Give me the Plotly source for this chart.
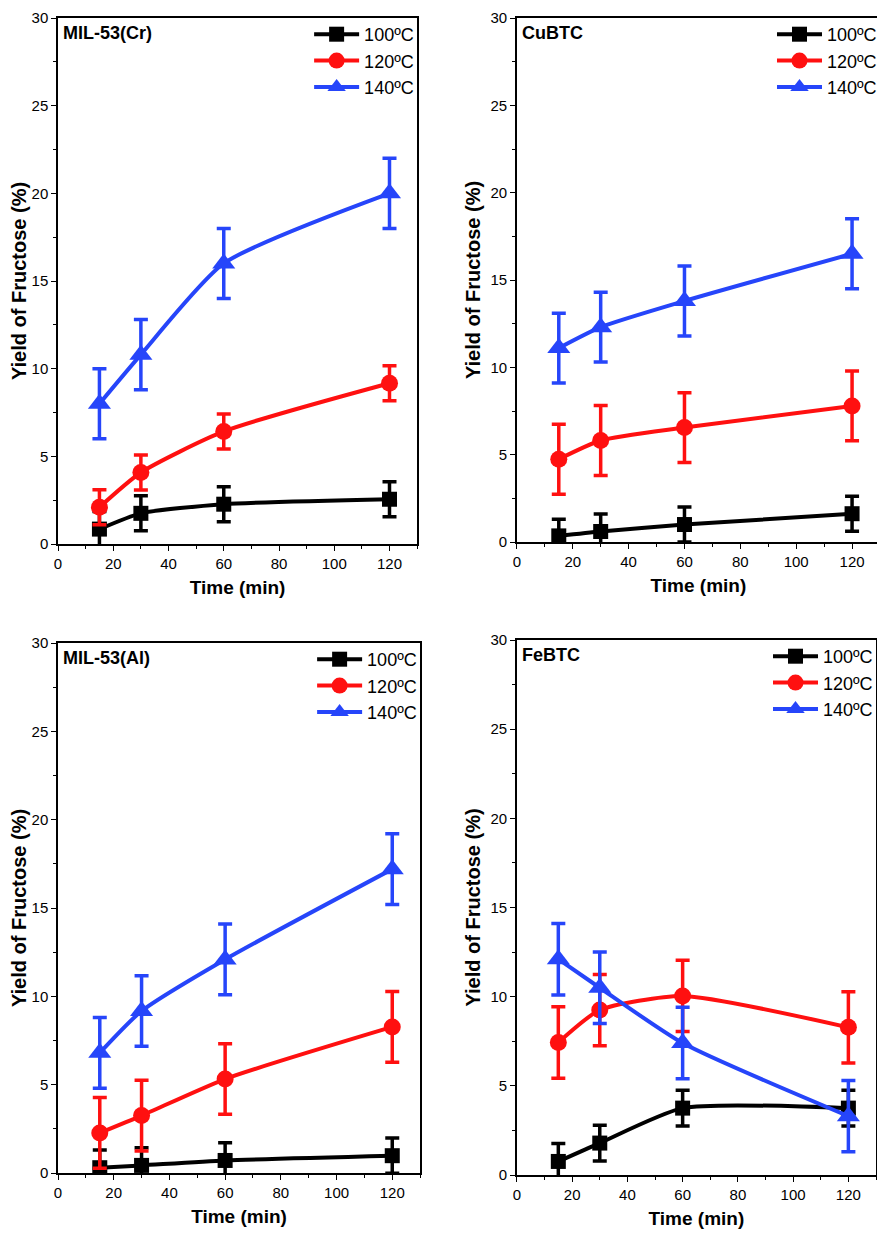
import plotly.graph_objects as go

# reaction time (min)
time = [15, 30, 60, 120]
temps = ["100ºC", "120ºC", "140ºC"]

# yield of fructose (%) per catalyst, one list per temperature
mil53cr_100 = [0.85, 1.75, 2.27, 2.55]
mil53cr_120 = [2.1, 4.08, 6.42, 9.17]
mil53cr_140 = [8.0, 10.8, 16.0, 20.0]
mil53cr_err = [[1, 1, 1, 1], [1, 1, 1, 1], [2, 2, 2, 2]]

cubtc_100 = [0.35, 0.6, 1.0, 1.62]
cubtc_120 = [4.74, 5.81, 6.55, 7.79]
cubtc_140 = [11.1, 12.3, 13.8, 16.5]
cubtc_err = [[0.95, 1, 1, 1], [2, 2, 2, 2], [2, 2, 2, 2]]

mil53al_100 = [0.3, 0.43, 0.71, 0.98]
mil53al_120 = [2.27, 3.25, 5.32, 8.27]
mil53al_140 = [6.8, 9.17, 12.09, 17.2]
mil53al_err = [[1, 1, 1, 1], [2, 2, 2, 2], [2, 2, 2, 2]]

febtc_100 = [0.76, 1.79, 3.75, 3.75]
febtc_120 = [7.43, 9.25, 10.04, 8.28]
febtc_140 = [12.1, 10.5, 7.4, 3.3]
febtc_err = [[1, 1, 1, 1], [2, 2, 2, 2], [2, 2, 2, 2]]

panels = [
    ("MIL-53(Cr)", [mil53cr_100, mil53cr_120, mil53cr_140], mil53cr_err),
    ("CuBTC", [cubtc_100, cubtc_120, cubtc_140], cubtc_err),
    ("MIL-53(Al)", [mil53al_100, mil53al_120, mil53al_140], mil53al_err),
    ("FeBTC", [febtc_100, febtc_120, febtc_140], febtc_err),
]

colors = ["#000000", "#FF1010", "#2645FA"]
symbols = ["square", "circle", "triangle-up"]
msizes = [15, 17, 20]

# the page body has an 8px margin, so the figure is drawn 8px smaller and
# every target pixel position is shifted by that offset
OFF = 8
W, H = 885 - OFF, 1244 - OFF
ML, MR, MT, MB = 58 - OFF, 3, 18 - OFF, 69
PW, PH = W - ML - MR, H - MT - MB
# plot area boxes in page pixels: left, right, top, bottom
boxes = [(58, 418, 18, 544), (518, 882, 18, 542),
         (58, 421, 643, 1173), (518, 878, 640, 1175)]

FONT = "Liberation Sans, Arial, sans-serif"

fig = go.Figure()
layout = dict(
    width=W, height=H,
    margin=dict(l=ML, r=MR, t=MT, b=MB),
    paper_bgcolor="white", plot_bgcolor="white",
    font=dict(family=FONT, color="black", size=15),
    showlegend=True,
    annotations=[],
)

for i, (name, series, errs) in enumerate(panels):
    n = "" if i == 0 else str(i + 1)
    leg = "legend" + n
    for j in range(3):
        fig.add_trace(go.Scatter(
            x=time, y=series[j], name=temps[j],
            mode="lines+markers",
            line=dict(color=colors[j], width=4, shape="spline", smoothing=0.6),
            marker=dict(color=colors[j], symbol=symbols[j], size=msizes[j]),
            error_y=dict(type="data", array=errs[j], color=colors[j],
                         thickness=3.5, width=7),
            xaxis="x" + n, yaxis="y" + n, legend=leg,
        ))
    l, r, t, b = [v - OFF for v in boxes[i]]
    xd = [(l - ML) / PW, (r - ML) / PW]
    yd = [1 - (b - MT) / PH, 1 - (t - MT) / PH]
    axis_common = dict(
        ticks="outside", ticklen=5, tickwidth=1.3, tickcolor="black",
        showline=True, linecolor="black", linewidth=1.5, mirror=True,
        showgrid=False, zeroline=False, automargin=False,
        tickfont=dict(size=15), ticklabeloverflow="allow",
    )
    layout["xaxis" + n] = dict(
        domain=xd, anchor="y" + n, range=[0, 130],
        tickmode="linear", tick0=0, dtick=20,
        minor=dict(dtick=10, ticks="outside", ticklen=3, tickwidth=1.3, tickcolor="black"),
        title=dict(text="<b>Time (min)</b>", font=dict(size=19), standoff=10),
        **axis_common,
    )
    layout["yaxis" + n] = dict(
        domain=yd, anchor="x" + n, range=[0, 30],
        tickmode="linear", tick0=0, dtick=5,
        minor=dict(dtick=2.5, ticks="outside", ticklen=3, tickwidth=1.3, tickcolor="black"),
        title=dict(text="<b>Yield of Fructose (%)</b>", font=dict(size=20), standoff=4),
        **axis_common,
    )
    layout[leg] = dict(
        x=xd[1] + 2 / PW, y=yd[1] + 2 / PH, xanchor="right", yanchor="top",
        bgcolor="rgba(0,0,0,0)", font=dict(size=18),
        tracegroupgap=0, itemwidth=45,
    )
    layout["annotations"].append(dict(
        text="<b>" + name + "</b>", xref="x" + n + " domain", yref="y" + n + " domain",
        x=3 / (r - l), y=1 - 3 / (b - t), xanchor="left", yanchor="top", showarrow=False,
        font=dict(size=18),
    ))

fig.update_layout(**layout)
fig.write_html("out.html")
